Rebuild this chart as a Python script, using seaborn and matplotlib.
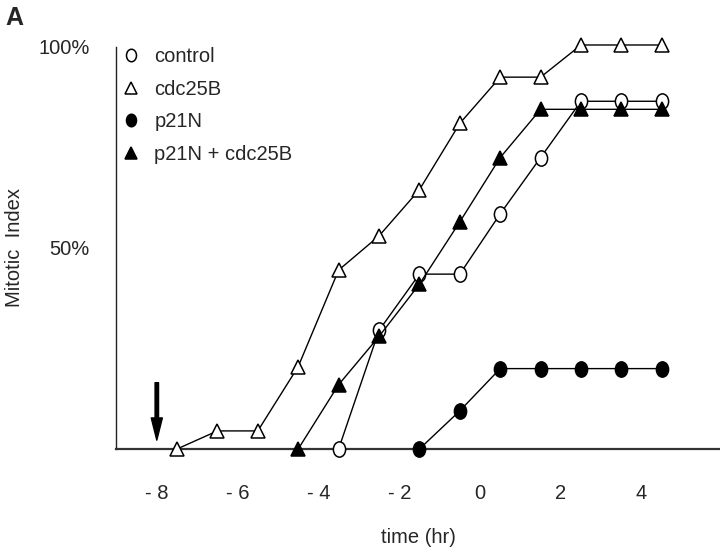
import numpy as np
import pandas as pd
import seaborn as sns
import matplotlib
matplotlib.use('Agg')
import matplotlib.pyplot as plt
from matplotlib.path import Path
from matplotlib.transforms import Affine2D
from matplotlib.lines import Line2D

# data (time in hr, mitotic index in %)
control_t = [-3.5, -2.5, -1.5, -0.5, 0.5, 1.5, 2.5, 3.5, 4.5]
control_y = [0, 29.5, 43.5, 43.5, 58.5, 72.5, 86.5, 86.5, 86.5]

cdc25b_t = [-7.5, -6.5, -5.5, -4.5, -3.5, -2.5, -1.5, -0.5, 0.5, 1.5, 2.5, 3.5, 4.5]
cdc25b_y = [0, 4.5, 4.5, 20.5, 44.5, 53, 64.5, 81, 92.5, 92.5, 100.5, 100.5, 100.5]

p21n_t = [-1.5, -0.5, 0.5, 1.5, 2.5, 3.5, 4.5]
p21n_y = [0, 9.5, 20, 20, 20, 20, 20]

combo_t = [-4.5, -3.5, -2.5, -1.5, -0.5, 0.5, 1.5, 2.5, 3.5, 4.5]
combo_y = [0, 16, 28, 41, 56.5, 72.5, 84.5, 84.5, 84.5, 84.5]

labels = ['control', 'cdc25B', 'p21N', 'p21N + cdc25B']
xticks = [-8, -6, -4, -2, 0, 2, 4]
xticklabels = ['- 8', '- 6', '- 4', '- 2', '0', '2', '4']
yticks = [50, 100]
yticklabels = ['50%', '100%']

sns.set_style('white')
plt.rcParams['font.family'] = ['Liberation Sans', 'DejaVu Sans']

# slightly tall ellipse for the circles (the scan is stretched)
ell = Path.unit_circle().transformed(Affine2D().scale(0.8, 1.0))

series = [
    (control_t, control_y, ell, 'white'),
    (cdc25b_t, cdc25b_y, '^', 'white'),
    (p21n_t, p21n_y, ell, 'black'),
    (combo_t, combo_y, '^', 'black'),
]

fig = plt.figure(figsize=(7.2, 5.48), dpi=100)
ax = fig.add_axes([116/720, 1-449/548, 1-116/720, 402/548])

for t, y, m, fc in series:
    sns.lineplot(x=t, y=y, ax=ax, color='black', lw=1.0, marker=m,
                 markersize=11 if m is ell else 10, markerfacecolor=fc,
                 markeredgecolor='black', markeredgewidth=1.1,
                 clip_on=False, zorder=3)

fs = 14.5
ax.set_xlim(-9.01, 5.94)
ax.set_ylim(0, 100)
ax.set_xticks(xticks)
ax.set_xticklabels(xticklabels, fontsize=fs)
ax.set_yticks(yticks)
ax.set_yticklabels(yticklabels, fontsize=fs)
ax.tick_params(axis='x', direction='out', length=6, width=1, pad=19, color='#333333')
ax.tick_params(axis='y', direction='out', length=6, width=1, pad=13, color='#333333')
ax.spines['top'].set_visible(False)
ax.spines['right'].set_visible(False)
ax.spines['bottom'].set_linewidth(1.6)
ax.spines['bottom'].set_color('#333333')
ax.spines['left'].set_linewidth(1.0)
ax.spines['left'].set_color('#222222')
ax.set_xlabel('time (hr)', fontsize=fs, labelpad=18)
ax.set_ylabel('Mitotic  Index', fontsize=fs, labelpad=10)

# arrow marking t = -8
ax.annotate('', xy=(-8, 2.2), xytext=(-8, 16.5),
            arrowprops=dict(width=2.5, headwidth=8, headlength=16, shrink=0,
                            facecolor='black', edgecolor='black'))

handles = []
for t, y, m, fc in series:
    handles.append(Line2D([], [], linestyle='none', marker=m,
                          markersize=9 if m is ell else 8,
                          markerfacecolor=fc, markeredgecolor='black',
                          markeredgewidth=1.1))
ax.legend(handles, labels, loc='upper left', bbox_to_anchor=(-0.015, 1.035),
          frameon=False, fontsize=fs, handlelength=1.0, handletextpad=0.65,
          labelspacing=0.68, borderaxespad=0.3)

fig.text(0.007, 0.955, 'A', fontsize=18, fontweight='bold')

fig.savefig('out.png', dpi=100)
